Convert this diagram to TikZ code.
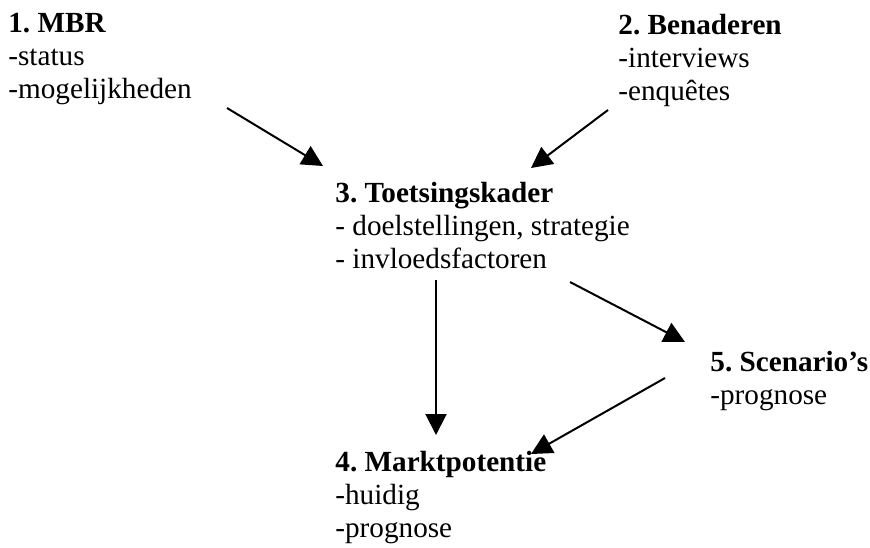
\documentclass[tikz,border=0pt]{standalone}
\usepackage{fontspec}
\setmainfont{Liberation Serif}
\usetikzlibrary{arrows.meta}
\frenchspacing

\begin{document}
\begin{tikzpicture}[x=0.5pt,y=-0.5pt,
		stap/.style={anchor=base west, inner sep=0pt, align=left,
			font=\fontsize{14.6}{16.3}\selectfont},
		pijl/.style={-{Triangle[length=10.5pt,width=10.5pt]}, line width=1pt}]
			\useasboundingbox (0,0) rectangle (870,547);
			% steps (placed at the baseline of their last line)
			\node[stap] (mbr) at (8,98) {\textbf{1. MBR}\\-status\\-mogelijkheden};
			\node[stap] (benaderen) at (618,100) {\textbf{2. Benaderen}\\-interviews\\-enqu\^etes};
			\node[stap] (kader) at (335,268) {\textbf{3. Toetsingskader}\\- doelstellingen, strategie\\- invloedsfactoren};
			\node[stap] (markt) at (335,537) {\textbf{4. Marktpotentie}\\-huidig\\-prognose};
			\node[stap] (scenario) at (710,404) {\textbf{5. Scenario’s}\\-prognose};
			% invisible points used for the arrows
			\coordinate (mbr_uit) at (227,108);
			\coordinate (kader_in1) at (323,166);
			\coordinate (benaderen_uit) at (608,110);
			\coordinate (kader_in2) at (531,168);
			\coordinate (kader_uit1) at (436,280);
			\coordinate (markt_in1) at (436,435);
			\coordinate (kader_uit2) at (570,282);
			\coordinate (scenario_in) at (685,342);
			\coordinate (scenario_uit) at (665,378);
			\coordinate (markt_in2) at (531,454);
			\foreach \van/\naar in {mbr_uit/kader_in1, benaderen_uit/kader_in2,
				kader_uit1/markt_in1, kader_uit2/scenario_in, scenario_uit/markt_in2}
			{
				% arrow
				\draw[pijl] (\van) -- (\naar);
			}
\end{tikzpicture}
\end{document}
